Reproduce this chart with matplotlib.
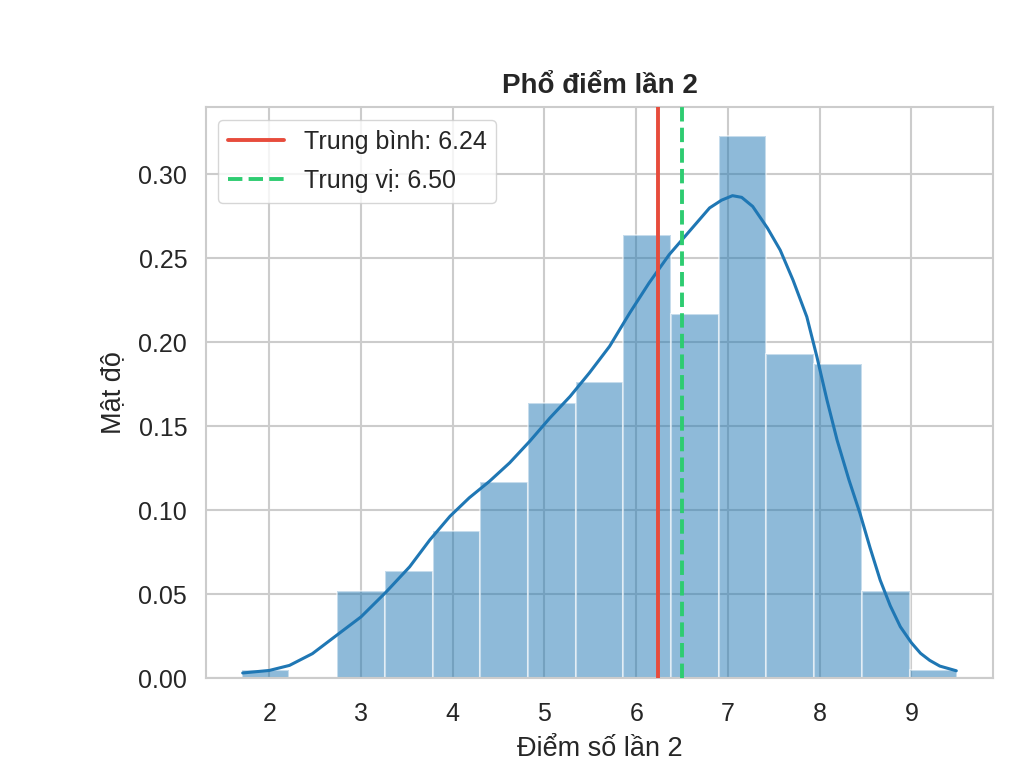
import numpy as np
import matplotlib
matplotlib.use("Agg")
import matplotlib.pyplot as plt
import seaborn as sns

# ---- data ----
bin_edges = [1.70, 2.22, 2.74, 3.26, 3.78, 4.30, 4.82, 5.34, 5.86,
             6.38, 6.90, 7.42, 7.94, 8.46, 8.98, 9.50]
densities = [0.0048, 0.0, 0.052, 0.0638, 0.0877, 0.117, 0.164, 0.176,
             0.264, 0.217, 0.323, 0.193, 0.187, 0.052, 0.0046]

kde_x = [1.71, 2.00, 2.22, 2.47, 2.76, 3.00, 3.27, 3.53, 3.75, 3.97,
         4.18, 4.40, 4.62, 4.84, 5.06, 5.28, 5.49, 5.71, 5.93, 6.14,
         6.36, 6.58, 6.80, 6.93, 7.05, 7.15, 7.27, 7.43, 7.57, 7.71,
         7.86, 7.97, 8.08, 8.19, 8.32, 8.44, 8.55, 8.66, 8.77, 8.88,
         9.00, 9.10, 9.20, 9.31, 9.49]
kde_y = [0.0030, 0.0045, 0.0075, 0.0145, 0.0265, 0.0364, 0.0510, 0.0662, 0.0822, 0.0963,
         0.1073, 0.1171, 0.1281, 0.1410, 0.1549, 0.1677, 0.1817, 0.1975, 0.2174, 0.2352,
         0.2521, 0.2660, 0.2799, 0.2845, 0.2872, 0.2862, 0.2808, 0.2680, 0.2548, 0.2369,
         0.2151, 0.1913, 0.1655, 0.1417, 0.1179, 0.0980, 0.0775, 0.0583, 0.0430, 0.0305,
         0.0210, 0.0147, 0.0105, 0.0071, 0.0043]

mean_val = 6.24
median_val = 6.50

title = "Phổ điểm lần 2"
xlabel = "Điểm số lần 2"
ylabel = "Mật độ"

# ---- style ----
sns.set_style("whitegrid")
plt.rcParams['font.family'] = ['Liberation Sans', 'DejaVu Sans']
plt.rcParams['text.color'] = '.15'
plt.rcParams['axes.labelcolor'] = '.15'
plt.rcParams['xtick.color'] = '.15'
plt.rcParams['ytick.color'] = '.15'

fig = plt.figure(figsize=(10.2, 7.82), dpi=100)
ax = fig.add_axes([206 / 1020, 1 - 678 / 782, (993 - 206) / 1020, (678 - 107) / 782])

edges = np.array(bin_edges)
ax.bar(edges[:-1], densities, width=np.diff(edges), align='edge',
       color='#1f77b4', alpha=0.5, edgecolor='white', linewidth=1.5, zorder=2)
ax.plot(kde_x, kde_y, color='#1f77b4', lw=2.2, zorder=3)

ax.axvline(mean_val, color='#e74c3c', lw=2.8, ls='-', label=f"Trung bình: {mean_val:.2f}", zorder=4)
ax.axvline(median_val, color='#2ecc71', lw=2.8, ls='--', label=f"Trung vị: {median_val:.2f}", zorder=4)

ax.set_xlim(1.31, 9.89)
ax.set_ylim(0, 0.340)
ax.set_xticks([2, 3, 4, 5, 6, 7, 8, 9])
ax.set_yticks([0.0, 0.05, 0.10, 0.15, 0.20, 0.25, 0.30])
ax.set_yticklabels([f"{v:.2f}" for v in [0.0, 0.05, 0.10, 0.15, 0.20, 0.25, 0.30]])
ax.tick_params(axis='x', labelsize=18, pad=14)
ax.tick_params(axis='y', labelsize=18, pad=10)

ax.set_title(title, fontsize=20, fontweight='bold', pad=10)
ax.set_xlabel(xlabel, fontsize=19.5, labelpad=7)
ax.set_ylabel(ylabel, fontsize=19.5, labelpad=9)

for s in ax.spines.values():
    s.set_color('.8')
    s.set_linewidth(1.5)
ax.grid(True, color='.8', lw=1.5)
ax.set_axisbelow(True)

ax.legend(loc='upper left', fontsize=18, frameon=True, borderaxespad=0.5,
          handlelength=2.2, labelspacing=0.6)

fig.savefig("out.png", dpi=100)
